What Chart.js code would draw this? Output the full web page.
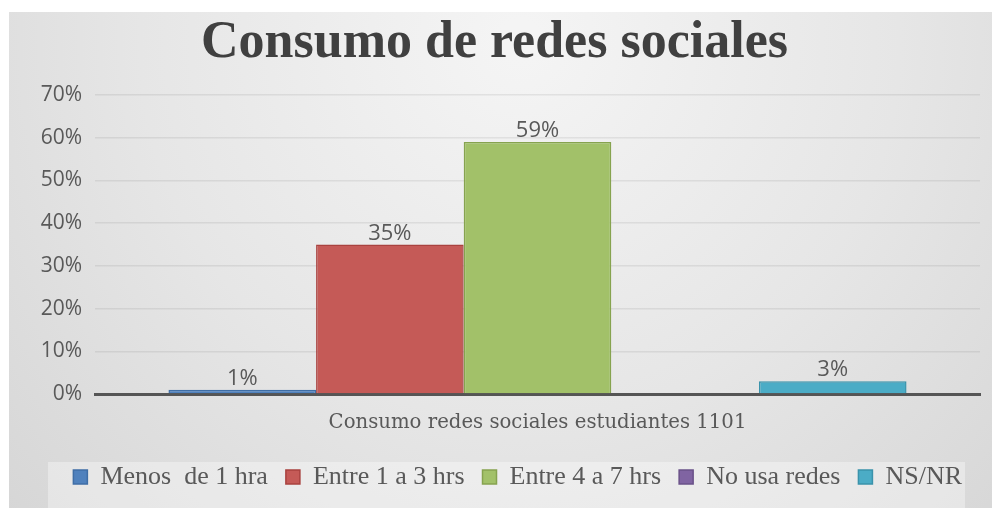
<!DOCTYPE html>
<html>
<head>
<meta charset="utf-8">
<script src="https://cdn.jsdelivr.net/npm/chart.js@4.4.0/dist/chart.umd.min.js"></script>
<style>
  html, body { margin: 0; padding: 0; background: #fff; }
  #wrap { width: 992px; height: 508px; }
</style>
</head>
<body>
<div id="wrap"><canvas id="grafico"></canvas></div>
<script>
// datos
const categorias = ['Consumo redes sociales estudiantes 1101'];
const series = ['Menos  de 1 hra', 'Entre 1 a 3 hrs', 'Entre 4 a 7 hrs', 'No usa redes', 'NS/NR'];
const valores = [1, 35, 59, 0, 3];
const colores = ['#4F81BD', '#C55A57', '#A2C169', '#8064A2', '#4BACC6'];
const bordes  = ['#3F6EA6', '#A9423F', '#86A34F', '#6A5189', '#3A93AB'];
const ticksY = [0, 10, 20, 30, 40, 50, 60, 70];

const gris = '#595959';

// fondo degradado tipo Excel + caja de la leyenda
const fondo = {
  id: 'fondo',
  beforeDraw(chart) {
    const ctx = chart.ctx;
    ctx.save();
    ctx.fillStyle = '#ffffff';
    ctx.fillRect(0, 0, chart.width, chart.height);
    const g = ctx.createRadialGradient(520, 40, 20, 520, 40, 820);
    g.addColorStop(0, '#f4f4f4');
    g.addColorStop(0.45, '#e6e6e6');
    g.addColorStop(1, '#d0d0d0');
    ctx.fillStyle = g;
    ctx.fillRect(9, 12, chart.width - 9, chart.height - 12);
    ctx.fillStyle = 'rgba(255,255,255,0.35)';
    ctx.fillRect(48, 462, 917, 46);
    ctx.restore();
  }
};

// etiquetas de valor encima de cada barra
const etiquetas = {
  id: 'etiquetas',
  afterDatasetsDraw(chart) {
    const ctx = chart.ctx;
    ctx.save();
    ctx.font = '22px "Open Sans"';
    ctx.fillStyle = gris;
    ctx.textAlign = 'center';
    ctx.textBaseline = 'bottom';
    chart.data.datasets.forEach((ds, i) => {
      if (ds.data[0] === 0) return;
      const bar = chart.getDatasetMeta(i).data[0];
      ctx.fillText(ds.data[0] + '%', bar.x, bar.y);
    });
    ctx.restore();
  }
};

new Chart(document.getElementById('grafico'), {
  type: 'bar',
  data: {
    labels: categorias,
    datasets: series.map((s, i) => ({
      label: s,
      data: [valores[i]],
      backgroundColor: colores[i],
      borderColor: bordes[i],
      borderWidth: 1.5,
      barPercentage: 1,
      categoryPercentage: 0.834
    }))
  },
  options: {
    responsive: true,
    maintainAspectRatio: false,
    animation: false,
    layout: { padding: { top: 0, left: 9, right: 12, bottom: 8 } },
    plugins: {
      title: {
        display: true,
        text: 'Consumo de redes sociales',
        color: '#404040',
        font: { family: '"Liberation Serif"', size: 52, weight: 'bold' },
        padding: { top: 12, bottom: 20.6 }
      },
      legend: {
        position: 'bottom',
        align: 'end',
        labels: {
          color: gris,
          font: { family: '"Liberation Serif"', size: 26 },
          boxWidth: 14,
          boxHeight: 14,
          padding: 18
        }
      },
      tooltip: { enabled: false }
    },
    scales: {
      x: {
        grid: { display: false, drawTicks: false },
        border: { color: '#555555', width: 3 },
        ticks: { color: gris, padding: 17, font: { family: '"DejaVu Serif"', size: 19.7 } },
        afterFit: axis => { axis.height = 52; }
      },
      y: {
        min: 0,
        max: 70,
        afterBuildTicks: axis => { axis.ticks = ticksY.map(v => ({ value: v })); },
        grid: {
          drawTicks: false,
          lineWidth: 1.5,
          color: c => c.tick && c.tick.value === 0 ? 'rgba(0,0,0,0)' : 'rgba(0,0,0,0.07)'
        },
        border: { display: false },
        ticks: {
          color: gris,
          padding: 13,
          font: { family: '"Open Sans"', size: 21 },
          callback: v => v + '%'
        },
        afterFit: axis => { axis.width = 86; }
      }
    }
  },
  plugins: [fondo, etiquetas]
});
</script>
</body>
</html>
